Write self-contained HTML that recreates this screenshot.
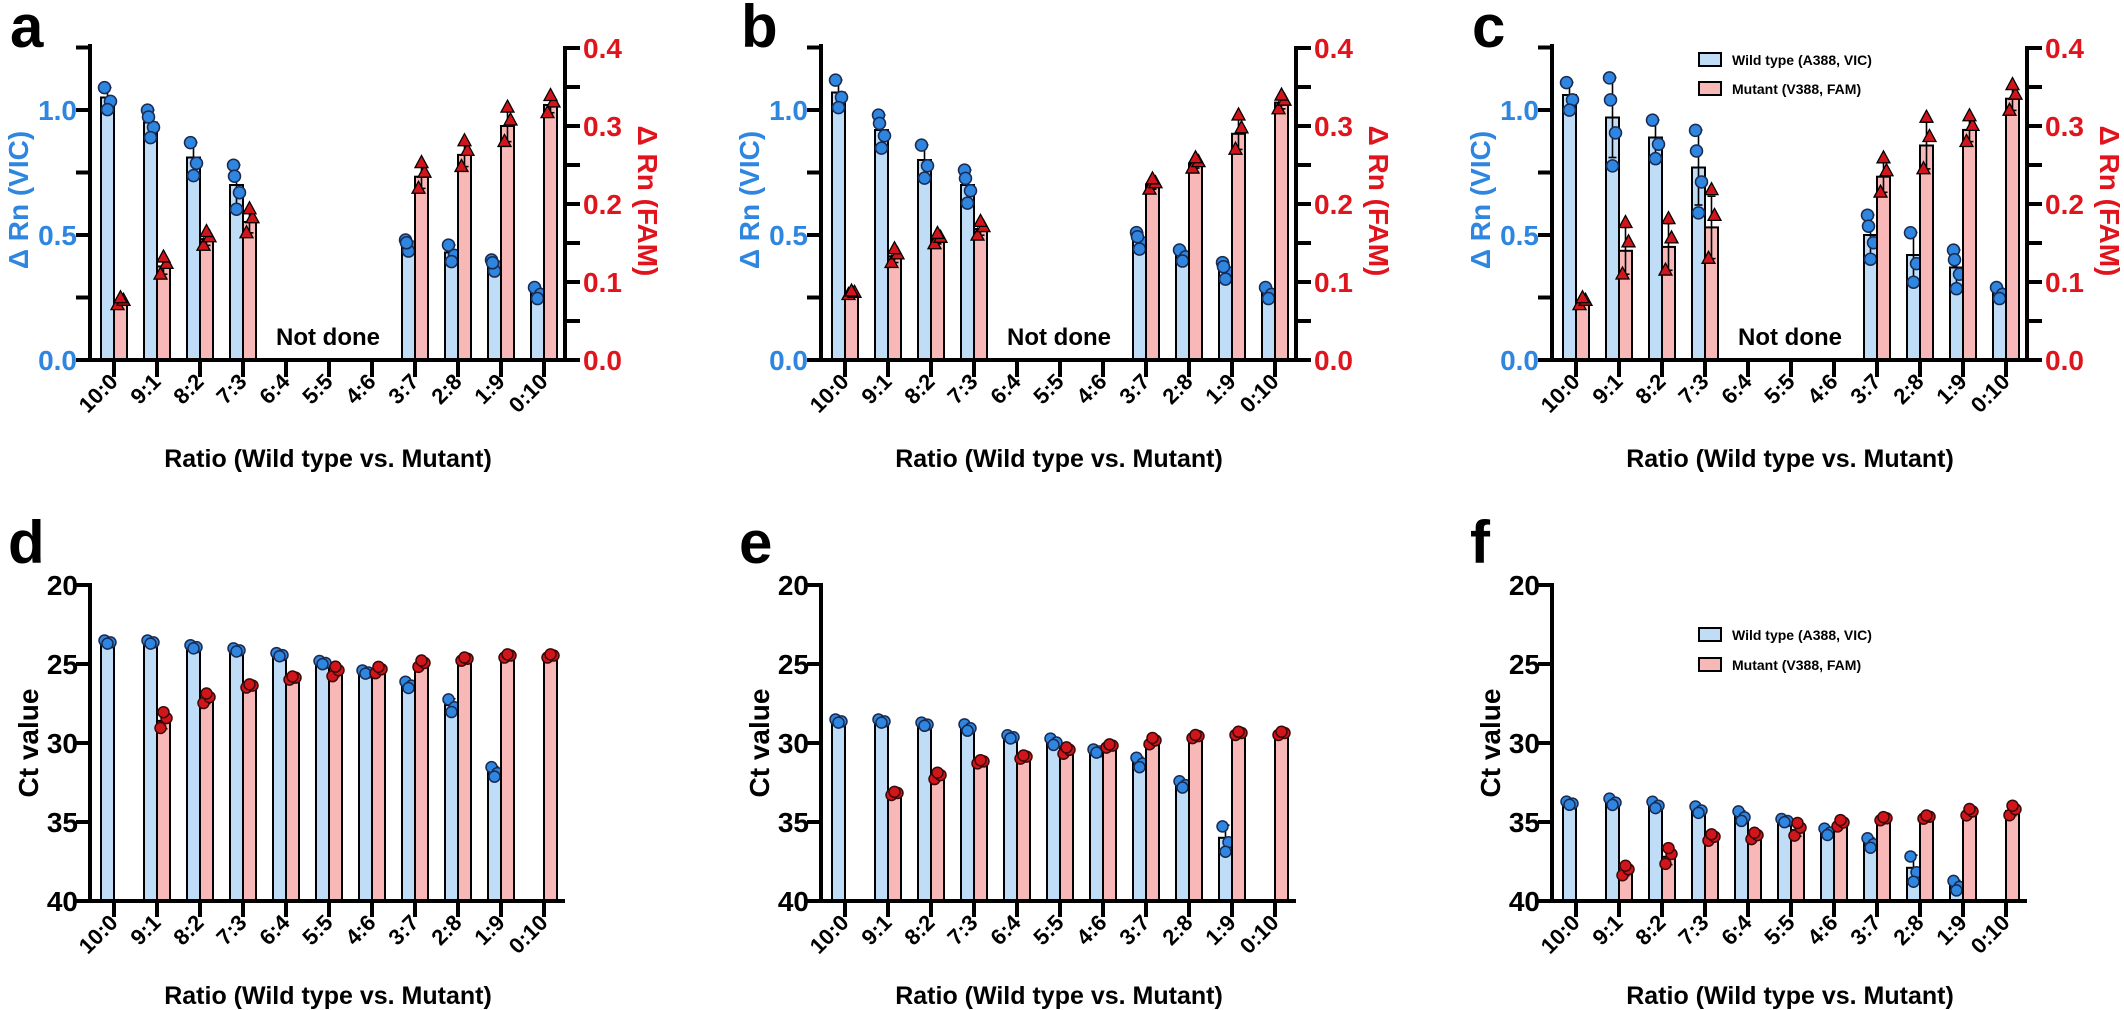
<!DOCTYPE html>
<html><head><meta charset="utf-8"><style>
html,body{margin:0;padding:0;background:#fff;}
svg{display:block;font-family:"Liberation Sans",Arial,sans-serif;font-weight:bold;}
</style></head><body>
<svg id="s" width="2124" height="1010" viewBox="0 0 2124 1010" xmlns="http://www.w3.org/2000/svg"></svg>
<script>
const S=document.getElementById('s');let h='';
const BL='#2F86E0',RD='#E0141C',BF='#BFDDF7',RF='#F9B8B8',DOT='#2F86E0',TRI='#D0151B';
const cats=['10:0','9:1','8:2','7:3','6:4','5:5','4:6','3:7','2:8','1:9','0:10'];
function cx(ox,i){return ox+114+43*i;}
function L(x1,y1,x2,y2,w,c){h+=`<line x1="${x1}" y1="${y1}" x2="${x2}" y2="${y2}" stroke="${c||'#000'}" stroke-width="${w}"/>`;}
function T(x,y,s,sz,fill,anchor,tr){h+=`<text x="${x}" y="${y}" font-size="${sz}" fill="${fill||'#000'}" text-anchor="${anchor||'start'}"${tr?` transform="${tr}"`:''}>${s}</text>`;}
function R(x,y,w,hh,f){h+=`<rect x="${x}" y="${y}" width="${w}" height="${hh}" fill="${f}" stroke="#000" stroke-width="2"/>`;}
const jit=[-0.9,0.35,1.1,-0.4],jx=[-3,3,0,-2];
function pts(x,ys,kind,r){ys.forEach((y,k)=>{const px=x+jx[k%4];
 if(kind==='c')h+=`<circle cx="${px}" cy="${y}" r="${r}" fill="${DOT}" stroke="#1a2a50" stroke-width="1.5"/>`;
 else if(kind==='rc')h+=`<circle cx="${px}" cy="${y}" r="${r}" fill="${TRI}" stroke="#3a0a0a" stroke-width="1.5"/>`;
 else h+=`<polygon points="${px},${y-7} ${px-6.5},${y+5} ${px+6.5},${y+5}" fill="${TRI}" stroke="#000" stroke-width="1.3"/>`;});}
function err(x,y1,y2){L(x,y1,x,y2,1.6);L(x-4,y1,x+4,y1,1.6);L(x-4,y2,x+4,y2,1.6);}
function rn(ox,letter,vic,fam,sdv,sdf,legend){
 T(ox+10,47,letter,60,'#000');
 const yv=v=>360-v*250,yf=v=>360-v*780;
 for(let i=0;i<11;i++){
  const c=cx(ox,i);
  if(vic[i]!=null){const y=yv(vic[i]);R(c-13,y,13,360-y,BF);const s=sdv[i]*250;err(c-6.5,y-s,y+s);
   pts(c-6.5,jit.slice(0,i%2?4:3).map(j=>y+j*s*1.1),'c',6);}
  if(fam[i]!=null){const y=yf(fam[i]);R(c,y,13,360-y,RF);const s=sdf[i]*780;err(c+6.5,y-s,y+s);
   pts(c+6.5,jit.slice(0,3).map(j=>y-j*s*1.1),'t');}
  L(c,360,c,377,4);
  T(c+5,383,cats[i],22,'#000','end',`rotate(-45 ${c+5} 383)`);
 }
 L(ox+90,44,ox+90,362,4);L(ox+88,360,ox+567,360,4);L(ox+565,46,ox+565,362,4);
 for(let k=0;k<=5;k++){const y=yv(k*0.25);L(ox+76,y,ox+90,y,4);}
 [['0.0',0],['0.5',0.5],['1.0',1]].forEach(([s,v])=>T(ox+77,yv(v)+10,s,28,BL,'end'));
 for(let k=0;k<=8;k++){const y=yf(k*0.05);L(ox+565,y,ox+580,y,4);}
 ['0.0','0.1','0.2','0.3','0.4'].forEach((s,k)=>T(ox+583,yf(k*0.1)+10,s,28,RD));
 T(ox+28,200,'Δ Rn (VIC)',28,BL,'middle',`rotate(-90 ${ox+28} 200)`);
 T(ox+638,201,'Δ Rn (FAM)',28,RD,'middle',`rotate(90 ${ox+638} 201)`);
 T(ox+328,345,'Not done',24,'#000','middle');
 T(ox+328,467,'Ratio (Wild type vs. Mutant)',25,'#000','middle');
 if(legend)leg(ox,53,82);
}
function leg(ox,y1,y2){R(ox+237,y1,22,13,BF);R(ox+237,y2,22,13,RF);
 T(ox+270,y1+12,'Wild type (A388, VIC)',14,'#000');T(ox+270,y2+12,'Mutant (V388, FAM)',14,'#000');}
function ct(ox,letter,wt,mu,sdw,sdm,legend){
 T(ox+8,563,letter,60,'#000');
 const yc=v=>585+(v-20)*15.8;
 for(let i=0;i<11;i++){const c=cx(ox,i);
  if(wt[i]!=null){const y=yc(wt[i]);R(c-13,y,13,901-y,BF);const s=sdw[i]*15.8;if(s>2)err(c-6.5,y-s,y+s);
   pts(c-6.5,jit.slice(0,3).map(j=>y+j*Math.max(s,1.5)),'c',5.5);}
  if(mu[i]!=null){const y=yc(mu[i]);R(c,y,13,901-y,RF);const s=sdm[i]*15.8;if(s>2)err(c+6.5,y-s,y+s);
   pts(c+6.5,jit.slice(0,3).map(j=>y-j*Math.max(s,1.5)),'rc',5.5);}
  L(c,901,c,917,4);
  T(c+5,924,cats[i],22,'#000','end',`rotate(-45 ${c+5} 924)`);
 }
 L(ox+90,583,ox+90,903,4);L(ox+88,901,ox+565,901,4);
 [20,25,30,35,40].forEach(v=>{const y=yc(v);L(ox+76,y,ox+90,y,4);T(ox+78,y+10,String(v),28,'#000','end');});
 T(ox+38,743,'Ct value',28,'#000','middle',`rotate(-90 ${ox+38} 743)`);
 T(ox+328,1004,'Ratio (Wild type vs. Mutant)',25,'#000','middle');
 if(legend)leg(ox,628,658);
}
const N=null;
rn(0,'a',[1.05,0.95,0.81,0.70,N,N,N,0.46,0.43,0.38,0.27],[0.075,0.12,0.155,0.177,N,N,N,0.235,0.263,0.30,0.327],
 [0.04,0.05,0.06,0.08,0,0,0,0.02,0.03,0.02,0.02],[0.004,0.01,0.008,0.014,0,0,0,0.015,0.015,0.02,0.01]);
rn(731,'b',[1.07,0.92,0.80,0.70,N,N,N,0.48,0.42,0.36,0.27],[0.086,0.133,0.155,0.168,N,N,N,0.225,0.252,0.29,0.33],
 [0.05,0.06,0.06,0.06,0,0,0,0.03,0.02,0.03,0.02],[0.002,0.008,0.006,0.008,0,0,0,0.006,0.006,0.02,0.008]);
rn(1462,'c',[1.06,0.97,0.89,0.77,N,N,N,0.50,0.42,0.37,0.27],[0.075,0.14,0.145,0.17,N,N,N,0.235,0.275,0.295,0.335],
 [0.05,0.16,0.07,0.15,0,0,0,0.08,0.09,0.07,0.02],[0.004,0.03,0.03,0.04,0,0,0,0.02,0.03,0.015,0.015],true);
ct(0,'d',[23.6,23.6,23.9,24.1,24.4,24.9,25.5,26.3,27.6,31.8,N],[N,28.6,27.2,26.4,25.9,25.5,25.4,25.0,24.7,24.5,24.5],
 [0.1,0.1,0.1,0.1,0.1,0.1,0.1,0.2,0.4,0.3,0],[0,0.5,0.3,0.1,0.1,0.3,0.2,0.2,0.1,0.1,0.1]);
ct(731,'e',[28.6,28.6,28.8,29.0,29.6,29.9,30.5,31.2,32.6,36.0,N],[N,33.2,32.1,31.2,30.9,30.5,30.2,29.9,29.6,29.4,29.4],
 [0.1,0.1,0.1,0.2,0.1,0.2,0.1,0.3,0.2,0.8,0],[0,0.1,0.2,0.1,0.1,0.2,0.1,0.2,0.1,0.1,0.1]);
ct(1462,'f',[33.8,33.7,33.9,34.2,34.6,34.9,35.6,36.3,37.9,39.0,N],[N,38.1,37.2,36.0,35.9,35.5,35.1,34.8,34.7,34.4,34.3],
 [0.1,0.2,0.2,0.2,0.3,0.1,0.2,0.3,0.8,0.3,0],[0,0.3,0.5,0.2,0.2,0.4,0.2,0.1,0.1,0.2,0.3],true);
S.innerHTML=h;
</script>
</body></html>
